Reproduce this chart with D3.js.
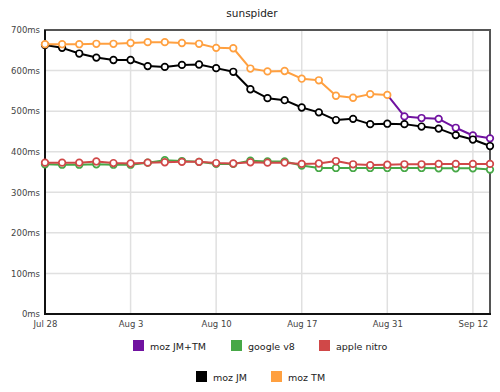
<!DOCTYPE html>
<html><head><meta charset="utf-8">
<script src="https://cdn.jsdelivr.net/npm/d3@7"></script>
<style>body{margin:0;background:#fff;} svg{display:block;}</style>
</head><body>
<svg id="c" width="500" height="392"></svg>
<script>
const title = "sunspider";
const categories = d3.range(27);
const tickIndex = [0, 5, 10, 15, 20, 25];
const tickLabels = ["Jul 28", "Aug 3", "Aug 10", "Aug 17", "Aug 31", "Sep 12"];
const yTicks = [0, 100, 200, 300, 400, 500, 600, 700];

const mozJM = [663, 656, 642, 632, 626, 626, 611, 609, 614, 615, 606, 597, 554, 532, 527, 509, 497, 478, 481, 468, 469, 468, 462, 457, 441, 430, 414];
const mozTM = [665, 665, 665, 666, 666, 668, 670, 670, 668, 666, 656, 655, 605, 598, 599, 580, 576, 538, 533, 542, 540];
const mozJMTM = [null, null, null, null, null, null, null, null, null, null, null, null, null, null, null, null, null, null, null, null, 540, 487, 483, 481, 459, 440, 433];
const googleV8 = [369, 368, 368, 369, 368, 368, 373, 379, 377, 375, 370, 370, 378, 376, 376, 366, 360, 360, 360, 360, 360, 360, 360, 359, 359, 359, 356];
const appleNitro = [373, 373, 373, 376, 372, 371, 373, 374, 375, 375, 372, 371, 374, 373, 373, 370, 371, 377, 369, 367, 368, 369, 369, 370, 370, 370, 370];

const seriesNames = ["moz JM+TM", "google v8", "apple nitro", "moz JM", "moz TM"];
const seriesColors = ["#7012a0", "#47a847", "#d04848", "#000000", "#ffa040"];
const seriesData = [mozJMTM, googleV8, appleNitro, mozJM, mozTM];

const svg = d3.select("#c");
const L = 45, R = 490, T = 30, B = 314;
const x = d3.scalePoint().domain(categories).range([L, R]);
const y = d3.scaleLinear().domain([0, 700]).range([B, T]);
const font = "DejaVu Sans, Verdana, sans-serif";

svg.append("text").attr("x", 252).attr("y", 17).attr("text-anchor", "middle")
  .attr("font-family", font).attr("font-size", 10.5).attr("fill", "#222").text(title);

// grid
const g = svg.append("g");
g.selectAll("line.h").data(yTicks).join("line")
  .attr("x1", L).attr("x2", R).attr("y1", d => y(d)).attr("y2", d => y(d))
  .attr("stroke", "#e0e0e0").attr("stroke-width", 1.5);
g.selectAll("line.v").data(tickIndex).join("line")
  .attr("x1", d => x(d)).attr("x2", d => x(d)).attr("y1", T).attr("y2", B)
  .attr("stroke", "#e0e0e0").attr("stroke-width", 1.5);

// frame
svg.append("rect").attr("x", L).attr("y", T).attr("width", R - L).attr("height", B - T)
  .attr("fill", "none").attr("stroke", "#555").attr("stroke-width", 2);
svg.append("line").attr("x1", L).attr("x2", L).attr("y1", T).attr("y2", B + 1).attr("stroke", "#111").attr("stroke-width", 2);
svg.append("line").attr("x1", L).attr("x2", R + 1).attr("y1", B).attr("y2", B).attr("stroke", "#111").attr("stroke-width", 2);

// axes
const yAxis = d3.axisLeft(y).tickValues(yTicks).tickFormat(d => d + "ms").tickSize(0).tickPadding(5);
const ya = svg.append("g").attr("transform", `translate(${L},0)`).call(yAxis);
ya.select(".domain").remove();
ya.selectAll("text").attr("font-family", font).attr("font-size", 8.5).attr("fill", "#444");

const xAxis = d3.axisBottom(x).tickValues(tickIndex).tickFormat((d, i) => tickLabels[i]).tickSize(0).tickPadding(7);
const xa = svg.append("g").attr("transform", `translate(0,${B})`).call(xAxis);
xa.select(".domain").remove();
xa.selectAll("text").attr("font-family", font).attr("font-size", 8.5).attr("fill", "#444");

// series
const line = d3.line().defined(d => d[1] != null).x(d => x(d[0])).y(d => y(d[1]));
seriesData.forEach((data, si) => {
  const pts = data.map((v, i) => [categories[i], v]);
  svg.append("path").datum(pts).attr("d", line).attr("fill", "none")
    .attr("stroke", seriesColors[si]).attr("stroke-width", 2).attr("stroke-linejoin", "round");
});
seriesData.forEach((data, si) => {
  const pts = data.map((v, i) => [categories[i], v]).filter(d => d[1] != null && !(si === 0 && d[0] === 20));
  svg.append("g").selectAll("circle").data(pts).join("circle")
    .attr("cx", d => x(d[0])).attr("cy", d => y(d[1])).attr("r", 3.3)
    .attr("fill", "#fff").attr("stroke", seriesColors[si]).attr("stroke-width", 1.7);
});

// legend
const legendPos = [[133, 340], [231, 340], [319, 340], [196, 371], [271, 371]];
seriesNames.forEach((n, i) => {
  const [lx, ly] = legendPos[i];
  svg.append("rect").attr("x", lx).attr("y", ly).attr("width", 11).attr("height", 11).attr("fill", seriesColors[i]);
  svg.append("text").attr("x", lx + 17).attr("y", ly + 9.5).attr("font-family", font)
    .attr("font-size", 9.5).attr("fill", "#222").text(n);
});
</script>
</body></html>
